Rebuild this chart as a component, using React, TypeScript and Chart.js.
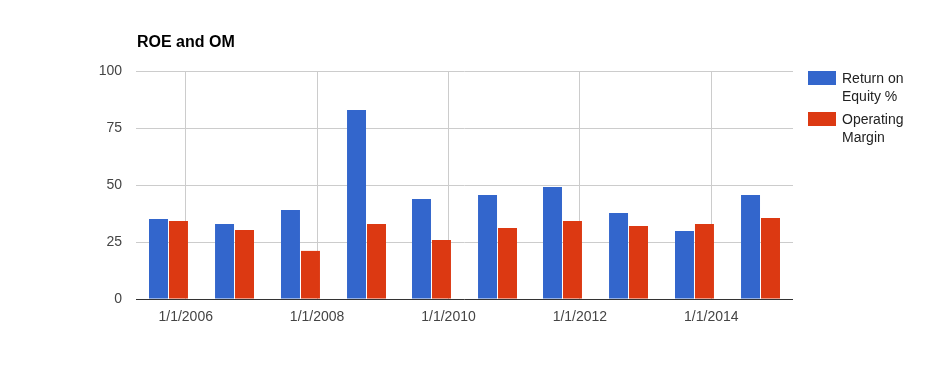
import React, { useEffect, useRef } from 'react';
import { Chart, registerables } from 'chart.js';

Chart.register(...registerables);

const chartTitle = 'ROE and OM';
// fiscal period ends, as fractional years
const periodEnds = [2005.738, 2006.743, 2007.747, 2008.752, 2009.741, 2010.746, 2011.735, 2012.74, 2013.744, 2014.749];
const returnOnEquity = [35.1, 32.9, 39.0, 82.9, 43.9, 45.6, 49.1, 37.7, 29.8, 45.6];
const operatingMargin = [34.2, 30.3, 21.1, 32.9, 25.9, 31.1, 34.2, 32.0, 32.9, 35.5];
const seriesLabels = [
  ['Return on', 'Equity %'],
  ['Operating', 'Margin'],
];
const seriesColors = ['#3366CC', '#DC3912'];
const xTickYears = [2006, 2008, 2010, 2012, 2014];
const yTickValues = [0, 25, 50, 75, 100];

const FONT = "Arial, 'Liberation Sans', sans-serif";

const decorPlugin = {
  id: 'decor',
  afterDatasetsDraw(chart: any) {
    const { ctx, chartArea, scales } = chart;
    const y0 = Math.round(scales.y.getPixelForValue(0)) + 0.5;
    ctx.save();
    ctx.strokeStyle = '#333333';
    ctx.lineWidth = 1;
    ctx.beginPath();
    ctx.moveTo(chartArea.left, y0);
    ctx.lineTo(chartArea.right, y0);
    ctx.stroke();
    ctx.restore();
  },
  afterDraw(chart: any) {
    const { ctx, chartArea } = chart;
    ctx.save();
    // title
    ctx.fillStyle = '#000000';
    ctx.font = `bold 16px ${FONT}`;
    ctx.textAlign = 'left';
    ctx.textBaseline = 'alphabetic';
    ctx.fillText(chartTitle, chartArea.left + 1, chartArea.top - 24.5);
    // legend
    ctx.font = `14px ${FONT}`;
    chart.data.datasets.forEach((ds: any, i: number) => {
      const top = chartArea.top + i * 41;
      const sx = chartArea.right + 15;
      ctx.fillStyle = ds.backgroundColor;
      ctx.fillRect(sx, top, 28, 14);
      ctx.fillStyle = '#222222';
      (ds.legendLines as string[]).forEach((line, j) => {
        ctx.fillText(line, sx + 34, top + 12.3 + j * 18);
      });
    });
    ctx.restore();
  },
};

export default function App() {
  const ref = useRef<HTMLCanvasElement | null>(null);

  useEffect(() => {
    document.body.style.margin = '0';
    const canvas = ref.current;
    if (!canvas) return;
    const chart = new Chart(canvas, {
      type: 'bar',
      data: {
        datasets: [returnOnEquity, operatingMargin].map((vals, i) => ({
          label: seriesLabels[i].join(' '),
          legendLines: seriesLabels[i],
          data: vals.map((v, k) => ({ x: periodEnds[k], y: v })),
          backgroundColor: seriesColors[i],
          borderWidth: 0,
          categoryPercentage: 0.615,
          barPercentage: 0.95,
        })) as any,
      },
      options: {
        animation: false,
        responsive: false,
        devicePixelRatio: 1,
        layout: { padding: { top: 71, right: 136, left: 0, bottom: 0 } },
        plugins: {
          legend: { display: false },
          title: { display: false },
          tooltip: { enabled: false },
        },
        scales: {
          x: {
            type: 'linear',
            min: 2005.2435,
            max: 2015.2435,
            offset: false,
            afterFit: (s: any) => {
              s.height = 72;
            },
            afterBuildTicks: (s: any) => {
              s.ticks = xTickYears.map((v) => ({ value: v }));
            },
            grid: { color: '#cccccc', drawTicks: false, lineWidth: 1, offset: false },
            border: { display: false },
            ticks: {
              autoSkip: false,
              maxRotation: 0,
              padding: 10,
              color: '#444444',
              font: { family: FONT, size: 14 },
              callback: (v: any) => '1/1/' + v,
            },
          },
          y: {
            min: 0,
            max: 100,
            afterFit: (s: any) => {
              s.width = 136;
            },
            afterBuildTicks: (s: any) => {
              s.ticks = yTickValues.map((v) => ({ value: v }));
            },
            grid: { color: '#cccccc', drawTicks: false, lineWidth: 1 },
            border: { display: false },
            ticks: {
              padding: 14,
              color: '#444444',
              font: { family: FONT, size: 14 },
            },
          },
        },
      },
      plugins: [decorPlugin],
    });
    return () => chart.destroy();
  }, []);

  return (
    <div style={{ width: 929, height: 371, overflow: 'hidden', background: '#ffffff' }}>
      <canvas ref={ref} width={929} height={371} style={{ display: 'block', width: 929, height: 371 }} />
    </div>
  );
}
